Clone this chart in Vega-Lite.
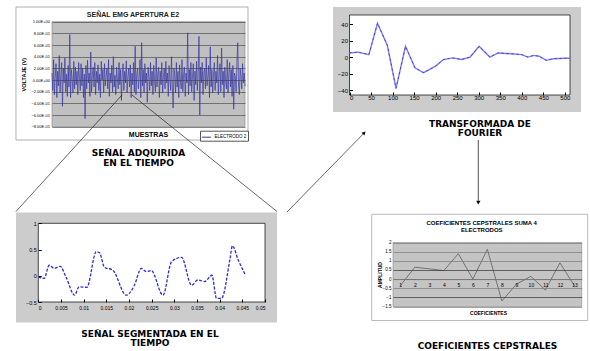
{
 "$schema": "https://vega.github.io/schema/vega-lite/v6.json",
 "padding": 0,
 "background": "white",
 "columns": 2,
 "spacing": 0,
 "align": "all",
 "bounds": "flush",
 "resolve": {"scale": {"x": "independent", "y": "independent", "color": "independent"}, "axis": {"x": "independent", "y": "independent"}, "legend": {"color": "independent"}},
 "config": {
  "view": {"stroke": null},
  "axis": {"labelFont": "Liberation Sans", "titleFont": "Liberation Sans", "labelColor": "#000000", "titleColor": "#000000"}
 },
 "datasets": {
  "emg": [
   {"n":1,"v":0.12},{"n":2,"v":-0.18},{"n":3,"v":0.35},{"n":4,"v":-0.25},{"n":5,"v":0.05},{"n":6,"v":0.28},{"n":7,"v":-0.3},{"n":8,"v":0.15},{"n":9,"v":-0.1},{"n":10,"v":0.42},
   {"n":11,"v":-0.22},{"n":12,"v":0.08},{"n":13,"v":0.3},{"n":14,"v":-0.45},{"n":15,"v":0.2},{"n":16,"v":-0.05},{"n":17,"v":0.38},{"n":18,"v":-0.2},{"n":19,"v":0.1},{"n":20,"v":-0.28},
   {"n":21,"v":0.25},{"n":22,"v":-0.12},{"n":23,"v":0.78},{"n":24,"v":-0.3},{"n":25,"v":0.18},{"n":26,"v":0.02},{"n":27,"v":-0.22},{"n":28,"v":0.32},{"n":29,"v":-0.15},{"n":30,"v":0.22},
   {"n":31,"v":-0.08},{"n":32,"v":0.15},{"n":33,"v":-0.25},{"n":34,"v":0.3},{"n":35,"v":0.05},{"n":36,"v":-0.18},{"n":37,"v":0.28},{"n":38,"v":-0.1},{"n":39,"v":0.2},{"n":40,"v":-0.3},
   {"n":41,"v":0.1},{"n":42,"v":-0.66},{"n":43,"v":0.25},{"n":44,"v":-0.15},{"n":45,"v":0.34},{"n":46,"v":-0.05},{"n":47,"v":0.12},{"n":48,"v":-0.28},{"n":49,"v":0.48},{"n":50,"v":-0.2},
   {"n":51,"v":0.08},{"n":52,"v":0.22},{"n":53,"v":-0.12},{"n":54,"v":0.3},{"n":55,"v":-0.25},{"n":56,"v":0.15},{"n":57,"v":-0.05},{"n":58,"v":0.26},{"n":59,"v":-0.18},{"n":60,"v":0.1},
   {"n":61,"v":-0.3},{"n":62,"v":0.32},{"n":63,"v":0},{"n":64,"v":0.18},{"n":65,"v":-0.22},{"n":66,"v":0.28},{"n":67,"v":-0.1},{"n":68,"v":0.05},{"n":69,"v":0.2},{"n":70,"v":-0.15},
   {"n":71,"v":0.35},{"n":72,"v":-0.28},{"n":73,"v":0.12},{"n":74,"v":-0.05},{"n":75,"v":0.25},{"n":76,"v":-0.2},{"n":77,"v":0.4},{"n":78,"v":-0.12},{"n":79,"v":0.08},{"n":80,"v":-0.25},
   {"n":81,"v":0.22},{"n":82,"v":0.02},{"n":83,"v":-0.15},{"n":84,"v":0.3},{"n":85,"v":-0.08},{"n":86,"v":0.18},{"n":87,"v":-0.35},{"n":88,"v":0.1},{"n":89,"v":0.28},{"n":90,"v":-0.18},
   {"n":91,"v":0.15},{"n":92,"v":-0.05},{"n":93,"v":0.33},{"n":94,"v":-0.22},{"n":95,"v":0.06},{"n":96,"v":0.2},{"n":97,"v":-0.12},{"n":98,"v":0.26},{"n":99,"v":-0.3},{"n":100,"v":0.12},
   {"n":101,"v":-0.08},{"n":102,"v":0.3},{"n":103,"v":-0.2},{"n":104,"v":0.58},{"n":105,"v":-0.25},{"n":106,"v":0.1},{"n":107,"v":0.2},{"n":108,"v":-0.15},{"n":109,"v":0.05},{"n":110,"v":0.35},
   {"n":111,"v":-0.3},{"n":112,"v":0.64},{"n":113,"v":-0.1},{"n":114,"v":0.18},{"n":115,"v":-0.22},{"n":116,"v":0.28},{"n":117,"v":-0.05},{"n":118,"v":0.12},{"n":119,"v":-0.38},{"n":120,"v":0.22},
   {"n":121,"v":0.05},{"n":122,"v":-0.18},{"n":123,"v":0.3},{"n":124,"v":-0.1},{"n":125,"v":0.15},{"n":126,"v":-0.25},{"n":127,"v":0.25},{"n":128,"v":0},{"n":129,"v":-0.2},{"n":130,"v":0.38},
   {"n":131,"v":-0.12},{"n":132,"v":0.1},{"n":133,"v":0.22},{"n":134,"v":-0.3},{"n":135,"v":0.15},{"n":136,"v":-0.08},{"n":137,"v":0.3},{"n":138,"v":-0.22},{"n":139,"v":0.05},{"n":140,"v":0.2},
   {"n":141,"v":-0.15},{"n":142,"v":0.32},{"n":143,"v":-0.05},{"n":144,"v":0.12},{"n":145,"v":-0.28},{"n":146,"v":0.25},{"n":147,"v":0.02},{"n":148,"v":-0.18},{"n":149,"v":0.4},{"n":150,"v":-0.1},
   {"n":151,"v":-0.48},{"n":152,"v":0.2},{"n":153,"v":0.08},{"n":154,"v":-0.22},{"n":155,"v":0.3},{"n":156,"v":-0.12},{"n":157,"v":0.15},{"n":158,"v":-0.3},{"n":159,"v":0.26},{"n":160,"v":0},
   {"n":161,"v":-0.15},{"n":162,"v":0.35},{"n":163,"v":-0.2},{"n":164,"v":0.1},{"n":165,"v":0.22},{"n":166,"v":-0.28},{"n":167,"v":0.12},{"n":168,"v":-0.05},{"n":169,"v":0.81},{"n":170,"v":-0.25},
   {"n":171,"v":0.18},{"n":172,"v":-0.1},{"n":173,"v":0.3},{"n":174,"v":-0.2},{"n":175,"v":0.05},{"n":176,"v":0.28},{"n":177,"v":-0.35},{"n":178,"v":0.15},{"n":179,"v":-0.08},{"n":180,"v":0.32},
   {"n":181,"v":-0.18},{"n":182,"v":0.1},{"n":183,"v":0.75},{"n":184,"v":-0.6},{"n":185,"v":0.22},{"n":186,"v":-0.05},{"n":187,"v":0.3},{"n":188,"v":-0.25},{"n":189,"v":0.12},{"n":190,"v":0.2},
   {"n":191,"v":-0.15},{"n":192,"v":0.38},{"n":193,"v":-0.1},{"n":194,"v":0.05},{"n":195,"v":0.25},{"n":196,"v":-0.3},{"n":197,"v":0.57},{"n":198,"v":-0.12},{"n":199,"v":0.18},{"n":200,"v":-0.22},
   {"n":201,"v":0.08},{"n":202,"v":0.3},{"n":203,"v":-0.18},{"n":204,"v":0.15},{"n":205,"v":-0.05},{"n":206,"v":0.42},{"n":207,"v":-0.25},{"n":208,"v":0.1},{"n":209,"v":0.28},{"n":210,"v":-0.2},
   {"n":211,"v":0.55},{"n":212,"v":-0.08},{"n":213,"v":0.15},{"n":214,"v":-0.3},{"n":215,"v":0.22},{"n":216,"v":0},{"n":217,"v":-0.15},{"n":218,"v":0.35},{"n":219,"v":-0.22},{"n":220,"v":0.1},
   {"n":221,"v":0.3},{"n":222,"v":-0.12},{"n":223,"v":0.18},{"n":224,"v":-0.28},{"n":225,"v":0.25},{"n":226,"v":-0.5},{"n":227,"v":0.12},{"n":228,"v":0.05},{"n":229,"v":-0.2},{"n":230,"v":0.3},
   {"n":231,"v":0.64},{"n":232,"v":-0.1},{"n":233,"v":-0.25},{"n":234,"v":0.2},{"n":235,"v":0.05},{"n":236,"v":-0.15},{"n":237,"v":0.28},{"n":238,"v":-0.05},{"n":239,"v":0.12},{"n":240,"v":-0.1}
  ],
  "fourier": [
   {"f":0,"a":5},{"f":20,"a":6},{"f":45,"a":3},{"f":65,"a":41},{"f":88,"a":14},{"f":108,"a":-38},{"f":130,"a":13},{"f":152,"a":-13},{"f":172,"a":-19},{"f":200,"a":-11},{"f":218,"a":-3},{"f":240,"a":-1},{"f":260,"a":-3},{"f":280,"a":0},{"f":301,"a":13},{"f":326,"a":0},{"f":345,"a":5},{"f":375,"a":4},{"f":400,"a":3},{"f":414,"a":0},{"f":428,"a":2},{"f":440,"a":1},{"f":457,"a":-4},{"f":473,"a":-2},{"f":500,"a":-1.5},{"f":512,"a":-1.5}
  ],
  "seg": [
   {"t":0,"s":-0.02},{"t":0.0013,"s":-0.05},{"t":0.0024,"s":0.2},{"t":0.0035,"s":0.14},{"t":0.0048,"s":0.18},{"t":0.0061,"s":-0.02},{"t":0.008,"s":-0.37},{"t":0.009,"s":-0.21},{"t":0.0107,"s":-0.22},{"t":0.0128,"s":0.46},{"t":0.0135,"s":0.44},{"t":0.0146,"s":0.16},{"t":0.0164,"s":0.11},{"t":0.0194,"s":-0.37},{"t":0.0212,"s":-0.18},{"t":0.0227,"s":0.14},{"t":0.0238,"s":0.08},{"t":0.0249,"s":0.1},{"t":0.0275,"s":-0.37},{"t":0.0294,"s":0.27},{"t":0.0316,"s":0.35},{"t":0.0338,"s":-0.18},{"t":0.0352,"s":-0.08},{"t":0.0367,"s":-0.11},{"t":0.0383,"s":0.01},{"t":0.0393,"s":-0.43},{"t":0.0404,"s":-0.43},{"t":0.0423,"s":0.33},{"t":0.0428,"s":0.57},{"t":0.0441,"s":0.3},{"t":0.0457,"s":0.01}
  ],
  "cep": [
   {"k":1,"c":-0.37},{"k":2,"c":0.65},{"k":3,"c":0.56},{"k":4,"c":0.46},{"k":5,"c":1.39},{"k":6,"c":0.0},{"k":7,"c":1.63},{"k":8,"c":-1.2},{"k":9,"c":-0.28},{"k":10,"c":0.15},{"k":11,"c":-0.6},{"k":12,"c":0.89},{"k":13,"c":-0.37}
  ]
 },
 "concat": [
  {
   "width": 300, "height": 175,
   "layer": [
    {"data": {"values": [{}]}, "mark": {"type": "rect", "fill": "#ffffff", "stroke": "#9a9a9a", "strokeWidth": 0.8},
     "encoding": {"x": {"datum": -43.6, "type": "quantitative"}, "x2": {"datum": 243.7}, "y": {"datum": 1.252, "type": "quantitative"}, "y2": {"datum": -1.028}}},
    {"data": {"values": [{}]}, "mark": {"type": "rect", "fill": "#c0c0c0", "stroke": "#808080", "strokeWidth": 0.6},
     "encoding": {"x": {"datum": 1, "type": "quantitative"}, "x2": {"datum": 240}, "y": {"datum": -0.8, "type": "quantitative"}, "y2": {"datum": 1.0}}},
    {"data": {"name": "emg"}, "mark": {"type": "line", "strokeWidth": 0.7},
     "encoding": {
      "x": {"field": "n", "type": "quantitative", "scale": {"domain": [1, 240], "range": [52, 245], "nice": false, "zero": false},
            "axis": {"zindex": 1, "labels": false, "ticks": false, "domain": false, "grid": false, "title": "MUESTRAS", "titleFontSize": 7, "titleFontWeight": "bold", "titleX": 148, "titleY": -41, "titleBaseline": "middle", "titleAlign": "center"}},
      "y": {"field": "v", "type": "quantitative", "scale": {"domain": [-0.8, 1.0], "range": [126.7, 21.7], "nice": false, "zero": false},
            "axis": {"zindex": 1, "values": [-0.8, -0.6, -0.4, -0.2, 0, 0.2, 0.4, 0.6, 0.8, 1.0], "tickCount": 40, "labelOverlap": false, "labelBound": false, "labelExpr": "replace(upper(format(datum.value, '.2e')), regexp('([+-])([0-9])$'), '$10$2')", "labelFontSize": 4, "labelPadding": 2.5, "ticks": false, "domain": false, "grid": true, "gridColor": "#3a3a3a", "gridWidth": 0.6, "offset": -52, "title": "VOLTAJE (V)", "titleFontSize": 5.5, "titleFontWeight": "bold", "titleX": -29, "titleY": 74.2, "titleBaseline": "middle", "titleAlign": "center"}},
      "color": {"datum": "ELECTRODO 2", "scale": {"range": ["#3636a6"]},
                "legend": {"title": null, "orient": "none", "legendX": 200, "legendY": 130.7, "symbolType": "stroke", "symbolSize": 80, "symbolStrokeWidth": 1, "labelFont": "Liberation Sans", "labelFontSize": 4.5, "strokeColor": "#555555", "fillColor": "#ffffff", "padding": 1.5, "labelOffset": 3}}
     }},
    {"data": {"values": [{}]}, "mark": {"type": "text", "font": "Liberation Sans", "fontWeight": "bold", "fontSize": 7, "align": "center", "baseline": "middle", "color": "#222222"},
     "encoding": {"x": {"datum": 101.3, "type": "quantitative"}, "y": {"datum": 1.115, "type": "quantitative"}, "text": {"value": "SEÑAL EMG APERTURA E2"}}},
    {"data": {"values": [{}]}, "mark": {"type": "text", "font": "DejaVu Sans", "fontWeight": "bold", "fontSize": 9, "align": "center", "baseline": "top", "lineHeight": 9.4, "color": "#000000"},
     "encoding": {"x": {"datum": 108.1, "type": "quantitative"}, "y": {"datum": -1.19, "type": "quantitative"}, "text": {"value": ["SEÑAL ADQUIRIDA", "EN EL TIEMPO"]}}},
    {"data": {"values": [{}]}, "mark": {"type": "rule", "color": "#000000", "strokeWidth": 0.6},
     "encoding": {"x": {"datum": 87.7, "type": "quantitative"}, "y": {"datum": -0.2566, "type": "quantitative"}, "x2": {"datum": -43.6}, "y2": {"datum": -2.2537}}},
    {"data": {"values": [{}]}, "mark": {"type": "rule", "color": "#000000", "strokeWidth": 0.6},
     "encoding": {"x": {"datum": 100.1, "type": "quantitative"}, "y": {"datum": -0.2566, "type": "quantitative"}, "x2": {"datum": 279.6}, "y2": {"datum": -2.2537}}}
   ]
  },
  {
   "width": 290, "height": 175,
   "layer": [
    {"data": {"values": [{}]}, "mark": {"type": "rect", "fill": "#cccccc"},
     "encoding": {"x": {"datum": -38.3, "type": "quantitative"}, "x2": {"datum": 537.5}, "y": {"datum": 60.7, "type": "quantitative"}, "y2": {"datum": -66.6}}},
    {"data": {"values": [{}]}, "mark": {"type": "rect", "fill": "#ffffff", "stroke": "#000000", "strokeWidth": 0.7},
     "encoding": {"x": {"datum": 0, "type": "quantitative"}, "x2": {"datum": 512}, "y": {"datum": -46, "type": "quantitative"}, "y2": {"datum": 51}}},
    {"data": {"name": "fourier"}, "mark": {"type": "line", "color": "#7a7aff", "strokeWidth": 1.4},
     "encoding": {
      "x": {"field": "f", "type": "quantitative", "scale": {"domain": [0, 512], "range": [49.5, 270], "nice": false, "zero": false},
            "axis": {"zindex": 1, "values": [0, 50, 100, 150, 200, 250, 300, 350, 400, 450, 500], "tickCount": 40, "labelOverlap": false, "labelBound": false, "format": "d", "offset": -80, "labelFontSize": 6, "labelPadding": 2, "ticks": true, "tickSize": -3, "tickColor": "#000000", "domain": false, "grid": false, "title": null}},
      "y": {"field": "a", "type": "quantitative", "scale": {"domain": [-46, 51], "range": [95, 15], "nice": false, "zero": false},
            "axis": {"zindex": 1, "values": [-40, -20, 0, 20, 40], "tickCount": 40, "labelOverlap": false, "labelBound": false, "format": "d", "offset": -49.5, "labelFontSize": 6, "labelPadding": 5, "ticks": true, "tickSize": -3, "tickColor": "#000000", "domain": false, "grid": false, "title": null}}
     }},
    {"data": {"name": "fourier"}, "mark": {"type": "line", "color": "#1e1e7a", "strokeWidth": 0.6, "strokeDash": [2, 3]},
     "encoding": {"x": {"field": "f", "type": "quantitative"}, "y": {"field": "a", "type": "quantitative"}}},
    {"data": {"values": [{}]}, "mark": {"type": "text", "font": "DejaVu Sans", "fontWeight": "bold", "fontSize": 9, "align": "center", "baseline": "top", "lineHeight": 9.4, "color": "#000000"},
     "encoding": {"x": {"datum": 303, "type": "quantitative"}, "y": {"datum": -76.3, "type": "quantitative"}, "text": {"value": ["TRANSFORMADA DE", "FOURIER"]}}},
    {"data": {"values": [{}]}, "mark": {"type": "rule", "color": "#000000", "strokeWidth": 0.7},
     "encoding": {"x": {"datum": 299.1, "type": "quantitative"}, "y": {"datum": -100.6, "type": "quantitative"}, "y2": {"datum": -174}}},
    {"data": {"values": [{}]}, "mark": {"type": "point", "shape": "triangle-down", "filled": true, "color": "#000000", "size": 18, "opacity": 1},
     "encoding": {"x": {"datum": 299.1, "type": "quantitative"}, "y": {"datum": -176.5, "type": "quantitative"}}}
   ]
  },
  {
   "width": 300, "height": 176,
   "layer": [
    {"data": {"values": [{}]}, "mark": {"type": "rect", "fill": "#cccccc"},
     "encoding": {"x": {"datum": -0.00492, "type": "quantitative"}, "x2": {"datum": 0.05265}, "y": {"datum": 1.205, "type": "quantitative"}, "y2": {"datum": -0.893}}},
    {"data": {"values": [{}]}, "mark": {"type": "rect", "fill": "#ffffff", "stroke": "#000000", "strokeWidth": 0.7},
     "encoding": {"x": {"datum": 0, "type": "quantitative"}, "x2": {"datum": 0.05}, "y": {"datum": -0.5, "type": "quantitative"}, "y2": {"datum": 1}}},
    {"data": {"name": "seg"}, "mark": {"type": "line", "color": "#2b2bd6", "strokeWidth": 1.3, "strokeDash": [3, 1.5], "interpolate": "monotone"},
     "encoding": {
      "x": {"field": "t", "type": "quantitative", "scale": {"domain": [0, 0.05], "range": [38.3, 265], "nice": false, "zero": false},
            "axis": {"zindex": 1, "values": [0, 0.005, 0.01, 0.015, 0.02, 0.025, 0.03, 0.035, 0.04, 0.045, 0.05], "tickCount": 40, "labelOverlap": false, "labelBound": false, "format": "~r", "offset": -50, "labelFontSize": 5, "labelPadding": 6, "ticks": true, "tickSize": -3, "tickColor": "#000000", "domain": false, "grid": false, "title": null}},
      "y": {"field": "s", "type": "quantitative", "scale": {"domain": [-0.5, 1], "range": [126, 47.3], "nice": false, "zero": false},
            "axis": {"zindex": 1, "values": [-0.5, 0, 0.5, 1], "tickCount": 40, "labelOverlap": false, "labelBound": false, "format": "~r", "offset": -38.3, "labelFontSize": 5.5, "labelPadding": 5, "ticks": true, "tickSize": -3, "tickColor": "#000000", "domain": false, "grid": false, "title": null}}
     }},
    {"data": {"values": [{}]}, "mark": {"type": "text", "font": "DejaVu Sans", "fontWeight": "bold", "fontSize": 9, "align": "center", "baseline": "top", "lineHeight": 9.4, "color": "#000000"},
     "encoding": {"x": {"datum": 0.024636, "type": "quantitative"}, "y": {"datum": -1.0258, "type": "quantitative"}, "text": {"value": ["SEÑAL SEGMENTADA EN EL", "TIEMPO"]}}},
    {"data": {"values": [{}]}, "mark": {"type": "rule", "color": "#000000", "strokeWidth": 0.6},
     "encoding": {"x": {"datum": 0.05485, "type": "quantitative"}, "y": {"datum": 1.2145, "type": "quantitative"}, "x2": {"datum": 0.0719}, "y2": {"datum": 2.724}}},
    {"data": {"values": [{}]}, "mark": {"type": "point", "shape": "triangle-up", "filled": true, "color": "#000000", "size": 16, "angle": 44, "opacity": 1},
     "encoding": {"x": {"datum": 0.0719, "type": "quantitative"}, "y": {"datum": 2.724, "type": "quantitative"}}}
   ]
  },
  {
   "width": 290, "height": 176,
   "layer": [
    {"data": {"values": [{}]}, "mark": {"type": "rect", "fill": "#ffffff", "stroke": "#aaaaaa", "strokeWidth": 0.8},
     "encoding": {"x": {"datum": -0.967, "type": "quantitative"}, "x2": {"datum": 13.913}, "y": {"datum": 3.542, "type": "quantitative"}, "y2": {"datum": -2.265}}},
    {"data": {"values": [{}]}, "mark": {"type": "rect", "fill": "#c4c4c4", "stroke": "#888888", "strokeWidth": 0.6},
     "encoding": {"x": {"datum": 0.5, "type": "quantitative"}, "x2": {"datum": 13.5}, "y": {"datum": -1.5, "type": "quantitative"}, "y2": {"datum": 2}}},
    {"data": {"name": "cep"}, "mark": {"type": "line", "color": "#6a6a6a", "strokeWidth": 0.9},
     "encoding": {
      "x": {"field": "k", "type": "quantitative", "scale": {"domain": [0.5, 13.5], "range": [93, 281.7], "nice": false, "zero": false},
            "axis": {"zindex": 1, "values": [1, 2, 3, 4, 5, 6, 7, 8, 9, 10, 11, 12, 13], "tickCount": 40, "labelOverlap": false, "labelBound": false, "format": "d", "offset": -72.9, "labelFontSize": 5, "labelPadding": 3, "ticks": false, "domain": true, "domainColor": "#666666", "domainWidth": 0.6, "grid": false, "title": "COEFICIENTES", "titleFontSize": 5, "titleFontWeight": "bold", "titleX": 188, "titleY": 33.6, "titleBaseline": "middle", "titleAlign": "center"}},
      "y": {"field": "c", "type": "quantitative", "scale": {"domain": [-1.5, 2], "range": [130.5, 66.5], "nice": false, "zero": false},
            "axis": {"zindex": 1, "values": [-1.5, -1, -0.5, 0, 0.5, 1, 1.5, 2], "tickCount": 40, "labelOverlap": false, "labelBound": false, "format": "~r", "offset": -93, "labelFontSize": 4.5, "labelPadding": 2, "ticks": false, "domain": false, "grid": true, "gridColor": {"condition": {"test": "datum.value === 0.5 || datum.value === -1", "value": "#333333"}, "value": "#7a7a7a"}, "gridWidth": 0.7, "title": "AMPLITUD", "titleFontSize": 5, "titleFontWeight": "bold", "titleX": -14, "titleY": 98.5, "titleBaseline": "middle", "titleAlign": "center"}}
     }},
    {"data": {"values": [{}]}, "mark": {"type": "text", "font": "Liberation Sans", "fontWeight": "bold", "fontSize": 6, "align": "center", "baseline": "top", "lineHeight": 7.6, "color": "#000000"},
     "encoding": {"x": {"datum": 6.611, "type": "quantitative"}, "y": {"datum": 3.2466, "type": "quantitative"}, "text": {"value": ["COEFICIENTES CEPSTRALES SUMA 4", "ELECTRODOS"]}}},
    {"data": {"values": [{}]}, "mark": {"type": "text", "font": "DejaVu Sans", "fontWeight": "bold", "fontSize": 9, "align": "center", "baseline": "middle", "color": "#000000"},
     "encoding": {"x": {"datum": 7.01, "type": "quantitative"}, "y": {"datum": -3.659, "type": "quantitative"}, "text": {"value": "COEFICIENTES CEPSTRALES"}}}
   ]
  }
 ]
}
